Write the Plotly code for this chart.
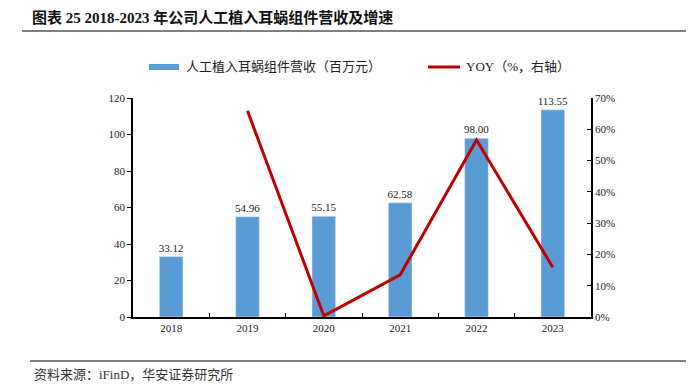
import plotly.graph_objects as go

years = ["2018", "2019", "2020", "2021", "2022", "2023"]
revenue = [33.12, 54.96, 55.15, 62.58, 98.00, 113.55]
yoy_years = ["2019", "2020", "2021", "2022", "2023"]
yoy = [65.9, 0.35, 13.47, 56.6, 15.87]

title_text = "图表 25 2018-2023 年公司人工植入耳蜗组件营收及增速"
bar_name = "人工植入耳蜗组件营收（百万元）"
line_name = "YOY（%，右轴）"
source_text = "资料来源：iFinD，华安证券研究所"

SERIF = "Liberation Serif, Noto Serif CJK SC, Noto Sans CJK SC, serif"
CJK = "Liberation Serif, Noto Sans CJK SC, sans-serif"
BLUE = "#5B9BD5"
RED = "#C00000"

fig = go.Figure()
fig.add_trace(go.Bar(
    x=years, y=revenue, name=bar_name, marker_color=BLUE, width=0.31,
    text=[f"{v:.2f}" for v in revenue], textposition="outside",
    textfont=dict(family=SERIF, size=11, color="#222"), cliponaxis=False,
    constraintext="none", showlegend=False,
))
fig.add_trace(go.Scatter(
    x=yoy_years, y=yoy, name=line_name, mode="lines",
    line=dict(color=RED, width=3), yaxis="y2", showlegend=False,
))

OFF = 8  # page body margin
W, H = 694 - OFF, 385 - OFF
L, R, T, B = 133 - OFF, 591 - OFF, 98 - OFF, 317 - OFF

def px(x):
    return (x - OFF - L) / (R - L)

def py(y):
    return (B - (y - OFF)) / (B - T)

fig.update_layout(
    width=W, height=H,
    margin=dict(l=L, r=W - R, t=T, b=H - B),
    paper_bgcolor="white", plot_bgcolor="white",
    font=dict(family=SERIF, size=11, color="#222"),
    xaxis=dict(
        type="category", showline=True, linecolor="black", linewidth=1.5,
        ticks="inside", tickson="boundaries", ticklen=4, tickcolor="black",
        tickfont=dict(family=SERIF, size=11), showgrid=False,
    ),
    yaxis=dict(
        range=[0, 120], dtick=20, showline=True, linecolor="black", linewidth=1.5,
        ticks="outside", ticklen=4, tickcolor="black", showgrid=False,
        zeroline=False, tickfont=dict(family=SERIF, size=11),
    ),
    yaxis2=dict(
        range=[0, 70], dtick=10, overlaying="y", side="right",
        showline=True, linecolor="black", linewidth=1.5,
        ticks="inside", ticklen=4, tickcolor="black", showgrid=False,
        zeroline=False, ticksuffix="%", tickfont=dict(family=SERIF, size=11),
    ),
    shapes=[
        dict(type="line", xref="paper", yref="paper", x0=px(22), x1=px(694), y0=py(31), y1=py(31),
             line=dict(color="#555", width=1.5)),
        dict(type="line", xref="paper", yref="paper", x0=px(30), x1=px(694), y0=py(361), y1=py(361),
             line=dict(color="#555", width=1.5)),
        dict(type="rect", xref="paper", yref="paper", x0=px(149), x1=px(179), y0=py(70), y1=py(64),
             fillcolor=BLUE, line=dict(width=0)),
        dict(type="line", xref="paper", yref="paper", x0=px(428), x1=px(460), y0=py(67), y1=py(67),
             line=dict(color=RED, width=3)),
    ],
    annotations=[
        dict(text="<b>" + title_text + "</b>", xref="paper", yref="paper", x=px(30), y=py(17),
             xanchor="left", yanchor="middle", showarrow=False,
             font=dict(family=CJK, size=15, color="#111")),
        dict(text=bar_name, xref="paper", yref="paper", x=px(184), y=py(67),
             xanchor="left", yanchor="middle", showarrow=False,
             font=dict(family=CJK, size=13, color="#222")),
        dict(text=line_name, xref="paper", yref="paper", x=px(464), y=py(67),
             xanchor="left", yanchor="middle", showarrow=False,
             font=dict(family=CJK, size=13, color="#222")),
        dict(text=source_text, xref="paper", yref="paper", x=px(32), y=py(374),
             xanchor="left", yanchor="middle", showarrow=False,
             font=dict(family=CJK, size=13, color="#333")),
    ],
)

fig.write_html("out.html")
